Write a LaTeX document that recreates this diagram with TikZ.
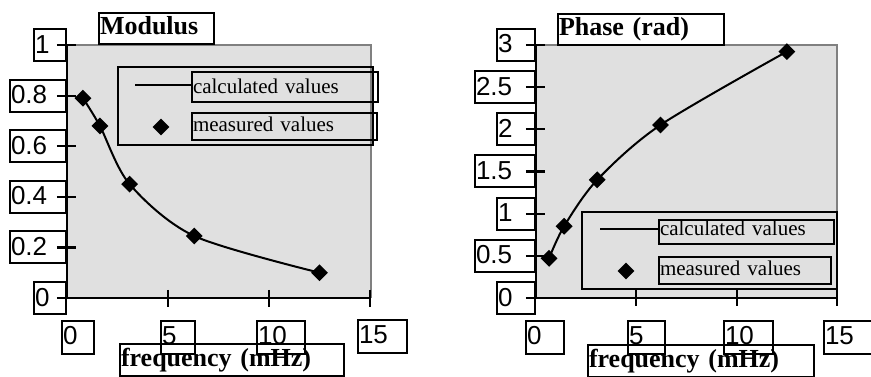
\documentclass[tikz,border=0pt]{standalone}
\usepackage{fontspec}
\setmainfont{Liberation Serif}
\newfontfamily\numfam{Liberation Sans}
\usetikzlibrary{shapes.geometric}

\newcommand{\tickfont}{\numfam\fontsize{26pt}{26pt}\selectfont}
\newcommand{\legfont}{\fontsize{21pt}{21pt}\selectfont}
\newcommand{\headfont}{\bfseries\fontsize{26pt}{26pt}\selectfont}
\definecolor{plotbg}{gray}{0.88}
\definecolor{plotrim}{gray}{0.5}

\tikzset{
  lbl/.style={draw, line width=2pt, inner sep=1pt, align=left},
  ylbl/.style={lbl, font=\tickfont, anchor=east, text height=23pt, text depth=7pt},
  xlbl/.style={lbl, font=\tickfont, anchor=north west, text height=22pt, text depth=9pt},
  head/.style={lbl, font=\headfont, anchor=north west, text height=20pt, text depth=9pt},
  leg/.style={lbl, font=\legfont, anchor=north west, text depth=8pt},
  frame/.style={draw, line width=2pt, inner sep=0pt, anchor=north west},
  meas/.style={diamond, fill=black, inner sep=0pt, minimum size=17pt},
  curve/.style={line width=2pt},
  axis/.style={line width=2.2pt},
}

\begin{document}
\begin{tikzpicture}[x=1pt, y=-1pt]
    \useasboundingbox (0,0) rectangle (871,376);

    % Modulus
    \fill[plotbg] (67,45) rectangle (371,298);
    \draw[plotrim, line width=2.5pt] (67,45) -- (371,45) -- (371,298);

    \node[frame, minimum width=255, minimum height=78] (mleg) at (117,66) {};
    \node[leg, text width=184, text height=20pt] (mcalc) at (191,71) {calculated values};
    \node[leg, text width=183, text height=17pt] (mmeas) at (191,112) {measured values};
    \coordinate (mline) at (135,85);
    \draw[curve] (mline) -- (mline -| mcalc.west);
    \node[meas] (mkey) at (161,127) {};

    \begin{scope}[shift={(67,298)}, x=20.2pt, y=253pt]
      \node[meas] (m1) at (0.79,0.79) {};
      \node[meas] (m2) at (1.63,0.68) {};
      \node[meas] (m3) at (3.1,0.45) {};
      \node[meas] (m4) at (6.3,0.245) {};
      \node[meas] (m5) at (12.5,0.1) {};
      \draw[curve] plot[smooth] coordinates {(m1.center) (m2.center) (m3.center) (m4.center) (m5.center)};

      \draw[axis] (0,1) -- (0,0) -- (15,0);
      \draw[axis] (-0.5,1) -- (0.45,1) (-0.5,0.8) -- (0.45,0.8) (-0.5,0.6) -- (0.45,0.6)
        (-0.5,0.4) -- (0.45,0.4) (-0.5,0.2) -- (0.45,0.2) (-0.5,0) -- (0.45,0);
      \draw[axis] (5,0.032) -- (5,-0.034) (10,0.032) -- (10,-0.034) (15,0.032) -- (15,-0.034);

      \node[ylbl, text width=30] (my1) at (0,1) {1};
      \node[ylbl, text width=54] (my08) at (0,0.8) {0.8};
      \node[ylbl, text width=54] (my06) at (0,0.6) {0.6};
      \node[ylbl, text width=54] (my04) at (0,0.4) {0.4};
      \node[ylbl, text width=54] (my02) at (0,0.2) {0.2};
      \node[ylbl, text width=30] (my0) at (0,0) {0};
    \end{scope}

    \node[xlbl, text width=30] (mx0) at (61,320) {0};
    \node[xlbl, text width=32] (mx5) at (160,320) {5};
    \node[xlbl, text width=46] (mx10) at (256,320) {10};
    \node[xlbl, text width=47] (mx15) at (357,319) {15};
    \node[head, text width=113] (mtitle) at (98,12) {Modulus};
    \node[head, text width=222, text height=21pt] (mfreq) at (119,343) {frequency (mHz)};

    % Phase
    \fill[plotbg] (536,45) rectangle (837,298);
    \draw[plotrim, line width=2.5pt] (536,45) -- (837,45) -- (837,298);

    \begin{scope}[shift={(536,298)}, x=20.07pt, y=84.4pt]
      \node[meas] (p1) at (0.65,0.47) {};
      \node[meas] (p2) at (1.4,0.85) {};
      \node[meas] (p3) at (3.05,1.4) {};
      \node[meas] (p4) at (6.2,2.05) {};
      \node[meas] (p5) at (12.5,2.92) {};
      \draw[curve] plot[smooth] coordinates {(p1.center) (p2.center) (p3.center) (p4.center) (p5.center)};
    \end{scope}

    \node[frame, minimum width=255, minimum height=77] (pleg) at (581,211) {};
    \node[leg, text width=173, text height=14pt] (pcalc) at (658,219) {calculated values};
    \node[leg, text width=170, text height=17pt] (pmeas) at (658,256) {measured values};
    \coordinate (pline) at (600,229);
    \draw[curve] (pline) -- (pline -| pcalc.west);
    \node[meas] (pkey) at (626,271) {};

    \begin{scope}[shift={(536,298)}, x=20.07pt, y=84.4pt]
      \draw[axis] (0,3) -- (0,0) -- (15,0);
      \draw[axis] (-0.5,3) -- (0.45,3) (-0.5,2.5) -- (0.45,2.5) (-0.5,2) -- (0.45,2)
        (-0.5,1.5) -- (0.45,1.5) (-0.5,1) -- (0.45,1) (-0.5,0.5) -- (0.45,0.5) (-0.5,0) -- (0.45,0);
      \draw[axis] (5,0.095) -- (5,-0.1) (10,0.095) -- (10,-0.1) (15,0.095) -- (15,-0.1);

      \node[ylbl, text width=36] (py3) at (0,3) {3};
      \node[ylbl, text width=58] (py25) at (0,2.5) {2.5};
      \node[ylbl, text width=36] (py2) at (0,2) {2};
      \node[ylbl, text width=58] (py15) at (0,1.5) {1.5};
      \node[ylbl, text width=36] (py1) at (0,1) {1};
      \node[ylbl, text width=58] (py05) at (0,0.5) {0.5};
      \node[ylbl, text width=36] (py0) at (0,0) {0};
    \end{scope}

    \node[xlbl, text width=36] (px0) at (525,320) {0};
    \node[xlbl, text width=35] (px5) at (627,320) {5};
    \node[xlbl, text width=47] (px10) at (723,320) {10};
    \node[xlbl, text width=58] (px15) at (823,320) {15};
    \node[head, text width=164] (ptitle) at (557,13) {Phase (rad)};
    \node[head, text width=224, text height=21pt] (pfreq) at (587,344) {frequency (mHz)};
\end{tikzpicture}
\end{document}
